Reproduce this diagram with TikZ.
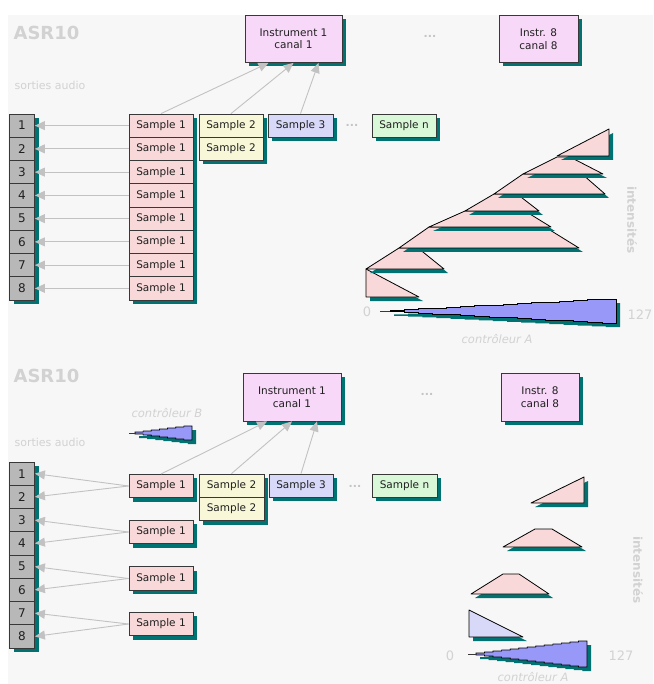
\documentclass[tikz,border=0pt]{standalone}
\usepackage{fontspec}
\setmainfont{DejaVu Sans}
\usetikzlibrary{arrows.meta,calc}
\definecolor{bgc}{HTML}{F7F7F7}
\definecolor{shadowc}{HTML}{007272}
\definecolor{boxline}{HTML}{383838}
\definecolor{txtc}{HTML}{202020}
\definecolor{labelc}{HTML}{D2D2D2}
\definecolor{dotc}{HTML}{C4C4C4}
\definecolor{arrc}{HTML}{C2C2C2}
\definecolor{numfill}{HTML}{B8B8B8}
\definecolor{pinkc}{HTML}{F8D8D8}
\definecolor{yellowc}{HTML}{F8F8D8}
\definecolor{bluec}{HTML}{D8D8F8}
\definecolor{greenc}{HTML}{D8F8D8}
\definecolor{instc}{HTML}{F8D8F8}
\definecolor{wedgec}{HTML}{9898F8}
\newcommand\ctlwedge[6]{%
  \pgfmathsetmacro\cw{(#4-#3)/#6}%
  \filldraw[wedge] (#3,#2)
    \foreach \i in {1,...,#6}{ -- ({#3+(\i-1)*\cw},{#2-#5*\i/#6}) -- ({#3+\i*\cw},{#2-#5*\i/#6}) }
    -- (#4,{#2+#5})
    \foreach \i in {#6,...,1}{ -- ({#3+\i*\cw},{#2+#5*\i/#6}) -- ({#3+(\i-1)*\cw},{#2+#5*\i/#6}) }
    -- cycle;
  \draw[boxline, line width=0.8pt] (#1,#2) -- (#3,#2);
}
\begin{document}
\begin{tikzpicture}[x=1pt,y=-1pt,
  shd/.style={preaction={fill=shadowc, transform canvas={xshift=4pt,yshift=-4pt}}},
  base/.style={shd, draw=boxline, line width=0.8pt, inner sep=0pt, text=txtc},
  numbox/.style={base, fill=numfill, minimum width=25pt, minimum height=23.25pt, font=\fontsize{12}{14}\selectfont},
  sbox/.style={base, minimum width=64pt, minimum height=23.25pt, font=\fontsize{10.5}{12}\selectfont},
  ibox/.style={base, fill=instc, minimum height=47pt, align=center, font=\fontsize{10.5}{12.5}\selectfont},
  arr/.style={draw=arrc, line width=0.9pt, -{Triangle[length=10pt,width=9pt]}},
  zone/.style={shd, fill=pinkc, draw=black, line width=0.8pt, line join=round},
  wedge/.style={shd, fill=wedgec, draw=black, line width=0.7pt},
  lbl/.style={text=labelc, inner sep=0pt},
  dots/.style={text=dotc, inner sep=0pt, font=\bfseries\fontsize{11}{12}\selectfont}
]
\useasboundingbox (0,0) rectangle (653,684);
\fill[bgc] (8,15) rectangle (653,684);

% ================= TOP PANEL =================
\node[lbl, font=\bfseries\fontsize{18}{20}\selectfont] (asr1) at (46.5,33) {ASR10};
\node[lbl, font=\fontsize{11}{13}\selectfont] (so1) at (50,85) {sorties audio};

\foreach \i in {1,...,8}{
  \node[numbox] (n\i) at (22,{114+23.25*(\i-0.5)}) {\i};
}
\foreach \i in {1,...,8}{
  \node[sbox, fill=pinkc] (a\i) at (161,{114+23.25*(\i-0.5)}) {Sample 1};
}
\node[sbox, fill=yellowc] (b1) at (231,{114+23.25*0.5}) {Sample 2};
\node[sbox, fill=yellowc] (b2) at (231,{114+23.25*1.5}) {Sample 2};
\node[sbox, fill=bluec, minimum width=65pt] (c1) at (300.5,{114+23.25*0.5}) {Sample 3};
\node[dots] (dt1) at (352,125) {...};
\node[sbox, fill=greenc] (d1) at (404,{114+23.25*0.5}) {Sample n};

\node[ibox, minimum width=97pt] (inst1) at (293.5,39) {Instrument 1\\canal 1};
\node[dots] (dt2) at (430,36) {...};
\node[ibox, minimum width=79pt] (ins8) at (538.5,39) {Instr. 8\\canal 8};

\foreach \i in {1,...,8}{
  \draw[arr] (a\i.west) -- (n\i.east);
}
\draw[arr] (a1.north) -- ([xshift=-25pt]inst1.south);
\draw[arr] (b1.north) -- (inst1.south);
\draw[arr] (c1.north) -- ([xshift=25pt]inst1.south);

% stacked zones
\filldraw[zone] (366,269) -- (366,297) -- (419,297) -- cycle;
\filldraw[zone] (366,269) -- (399,248) -- (418,248) -- (444,269) -- cycle;
\filldraw[zone] (399,248) -- (429,227) -- (545,227) -- (579,248) -- cycle;
\filldraw[zone] (429,227) -- (465,211) -- (525,211) -- (551,227) -- cycle;
\filldraw[zone] (465,211) -- (494,194) -- (517,194) -- (539,211) -- cycle;
\filldraw[zone] (494,194) -- (523,174) -- (582,174) -- (605,194) -- cycle;
\filldraw[zone] (523,174) -- (557,157) -- (570,157) -- (603,174) -- cycle;
\filldraw[zone] (557,156) -- (609,129) -- (609,156) -- cycle;

\ctlwedge{380}{311}{390}{616}{12}{16}
\node[lbl, font=\fontsize{13}{15}\selectfont] (z1) at (367,312) {0};
\node[lbl, font=\fontsize{13}{15}\selectfont] (m1) at (640,315) {127};
\node[lbl, font=\itshape\fontsize{11.5}{13}\selectfont] (ca1) at (497,339) {contrôleur A};
\node[lbl, font=\bfseries\fontsize{12}{14}\selectfont, rotate=-90] (it1) at (632,220) {intensités};

% ================= BOTTOM PANEL =================
\node[lbl, font=\bfseries\fontsize{18}{20}\selectfont] (asr2) at (46.5,375.5) {ASR10};
\node[lbl, font=\fontsize{11}{13}\selectfont] (so2) at (50,442) {sorties audio};
\node[lbl, font=\itshape\fontsize{11.5}{13}\selectfont] (cb) at (167,413) {contrôleur B};
\ctlwedge{129}{433}{135}{192}{7}{7}

\foreach \i in {1,...,8}{
  \node[numbox] (p\i) at (22,{462+23.25*(\i-0.5)}) {\i};
}
\node[sbox, fill=pinkc] (sA) at (161,486) {Sample 1};
\node[sbox, fill=pinkc] (sB) at (161,532) {Sample 1};
\node[sbox, fill=pinkc] (sC) at (161,578.5) {Sample 1};
\node[sbox, fill=pinkc] (sD) at (161,624) {Sample 1};
\node[sbox, fill=yellowc, minimum width=65pt] (e1) at (231.5,{474+23.25*0.5}) {Sample 2};
\node[sbox, fill=yellowc, minimum width=65pt] (e2) at (231.5,{474+23.25*1.5}) {Sample 2};
\node[sbox, fill=bluec] (f1) at (301,{474+23.25*0.5}) {Sample 3};
\node[dots] (dt3) at (355,486) {...};
\node[sbox, fill=greenc, minimum width=65pt] (g1) at (404.5,{474+23.25*0.5}) {Sample n};

\node[ibox, minimum width=98pt, minimum height=48pt] (inst2) at (292,397) {Instrument 1\\canal 1};
\node[dots] (dt4) at (427,394) {...};
\node[ibox, minimum width=78pt, minimum height=48pt] (ins82) at (540,397) {Instr. 8\\canal 8};

\draw[arr] (sA.west) -- (p1.east);
\draw[arr] (sA.west) -- (p2.east);
\draw[arr] (sB.west) -- (p3.east);
\draw[arr] (sB.west) -- (p4.east);
\draw[arr] (sC.west) -- (p5.east);
\draw[arr] (sC.west) -- (p6.east);
\draw[arr] (sD.west) -- (p7.east);
\draw[arr] (sD.west) -- (p8.east);
\draw[arr] (sA.north) -- ([xshift=-25pt]inst2.south);
\draw[arr] (e1.north) -- (inst2.south);
\draw[arr] (f1.north) -- ([xshift=25pt]inst2.south);

\filldraw[zone, fill=bluec] (469,610) -- (469,637) -- (523,637) -- cycle;
\filldraw[zone] (471,594) -- (503,574) -- (519,574) -- (549,594) -- cycle;
\filldraw[zone] (503,547) -- (535,529) -- (552,529) -- (582,547) -- cycle;
\filldraw[zone] (531,503) -- (584,477) -- (584,503) -- cycle;

\ctlwedge{468}{654}{476}{587}{13}{13}
\node[lbl, font=\fontsize{13}{15}\selectfont] (z2) at (450,656) {0};
\node[lbl, font=\fontsize{13}{15}\selectfont] (m2) at (621,656) {127};
\node[lbl, font=\itshape\fontsize{11.5}{13}\selectfont] (ca2) at (533,677) {contrôleur A};
\node[lbl, font=\bfseries\fontsize{12}{14}\selectfont, rotate=-90] (it2) at (638,570) {intensités};
\end{tikzpicture}
\end{document}
